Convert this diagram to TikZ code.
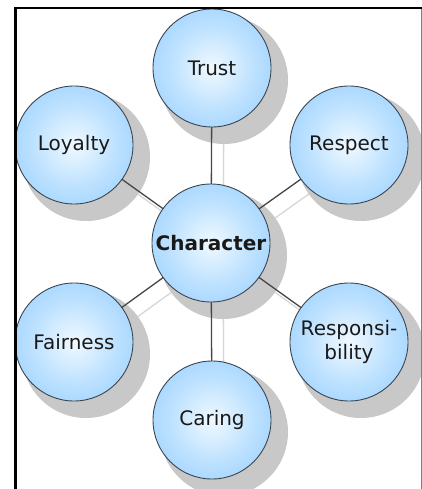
\documentclass[tikz,border=0pt]{standalone}
\usepackage{fontspec}
\setmainfont{DejaVu Sans}
\definecolor{ballEdge}{RGB}{128,196,255}
\definecolor{ballMid}{RGB}{188,225,255}
\definecolor{ballCenter}{RGB}{240,249,255}
\definecolor{ballLine}{RGB}{60,70,80}
\definecolor{shd}{RGB}{200,200,200}
\definecolor{darkline}{RGB}{70,70,70}
\definecolor{lightline}{RGB}{215,215,215}
\definecolor{txt}{RGB}{25,25,25}
\pgfdeclareradialshading{ballshade}{\pgfpoint{0bp}{0bp}}{color(0bp)=(ballCenter); color(18bp)=(ballMid); color(44bp)=(ballEdge); color(50bp)=(ballEdge)}
\pgfdeclareradialshading{shadowshade}{\pgfpoint{0bp}{0bp}}{color(0bp)=(shd); color(36bp)=(shd); color(50bp)=(white)}
\pgfdeclarelayer{bglayer}
\pgfdeclarelayer{shdlayer}
\pgfdeclarelayer{linelayer}
\pgfsetlayers{bglayer,shdlayer,linelayer,main}
\tikzset{
  ball/.style={circle, draw=ballLine, line width=0.9pt, shading=ballshade,
    minimum size=118pt, inner sep=0pt, text=txt, align=center,
    font=\fontsize{20}{24}\selectfont},
  shadowball/.style={circle, shading=shadowshade, minimum size=128pt, inner sep=0pt},
  darkconn/.style={draw=darkline, line width=1.3pt},
  lightconn/.style={draw=lightline, line width=1.3pt}
}
\begin{document}
\begin{tikzpicture}[x=1pt,y=-1pt]
\useasboundingbox (0,0) rectangle (422,489);
% nodes
\node[ball] (trust) at (212,68) {Trust};
\node[ball] (loyalty) at (74,145) {Loyalty};
\node[ball] (respect) at (349,145) {Respect};
\node[ball] (char) at (211,243) {\textbf{Character}};
\node[ball] (fair) at (74,342) {Fairness};
\node[ball] (resp) at (349,342) {Responsi-\\bility};
\node[ball] (caring) at (212,420) {Caring};
% shadows
\begin{pgfonlayer}{shdlayer}
\node[shadowball] (trust-s) at (224,80) {};
\node[shadowball] (loyalty-s) at (86,157) {};
\node[shadowball] (respect-s) at (361,157) {};
\node[shadowball] (char-s) at (223,255) {};
\node[shadowball] (fair-s) at (86,354) {};
\node[shadowball] (resp-s) at (361,354) {};
\node[shadowball] (caring-s) at (224,432) {};
\end{pgfonlayer}
\begin{pgfonlayer}{bglayer}
\fill[white] (0,0) rectangle (422,489);
\foreach \n in {trust,loyalty,respect,fair,resp,caring}
  \draw[lightconn] (char-s.center) -- (\n-s.center);
\end{pgfonlayer}
\begin{pgfonlayer}{linelayer}
\foreach \n in {trust,loyalty,respect,fair,resp,caring}
  \draw[darkconn] (char.center) -- (\n.center);
\end{pgfonlayer}
% frame
\draw[line width=2.8pt, line join=miter] (15.3,489) -- (15.3,8) -- (422,8);
\draw[gray, line width=1.2pt] (421.3,9) -- (421.3,489);
\end{tikzpicture}
\end{document}
